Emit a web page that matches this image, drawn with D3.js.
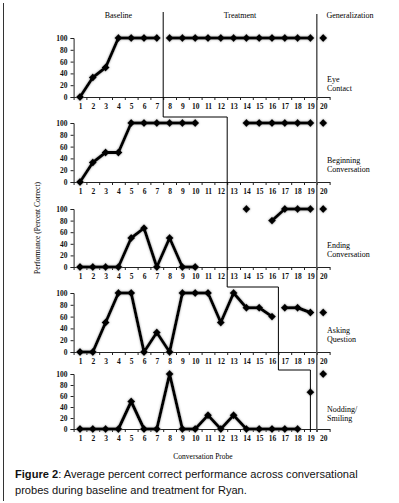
<!DOCTYPE html>
<html>
<head>
<meta charset="utf-8">
<script src="https://cdn.jsdelivr.net/npm/d3@7"></script>
<style>
  body { margin: 0; background: #fff; }
  svg { display: block; }
</style>
</head>
<body>
<div id="chart-container"></div>
<script>
const probes = d3.range(1, 21)
const yTicks = [0, 20, 40, 60, 80, 100]
const phaseTitles = ['Baseline', 'Treatment', 'Generalization']
const behaviours = [['Eye', 'Contact'], ['Beginning', 'Conversation'], ['Ending', 'Conversation'], ['Asking', 'Question'], ['Nodding/', 'Smiling']]

// percent correct per probe 1..20, null = not probed
const eyeContact = [0, 33, 50, 100, 100, 100, 100, 100, 100, 100, 100, 100, 100, 100, 100, 100, 100, 100, 100, 100]
const beginningConversation = [0, 33, 50, 50, 100, 100, 100, 100, 100, 100, null, null, null, 100, 100, 100, 100, 100, 100, 100]
const endingConversation = [0, 0, 0, 0, 50, 67, 0, 50, 0, 0, null, null, null, 100, null, 80, 100, 100, 100, 100]
const askingQuestion = [0, 0, 50, 100, 100, 0, 33, 0, 100, 100, 100, 50, 100, 75, 75, 60, 75, 75, 67, 67]
const noddingSmiling = [0, 0, 0, 0, 50, 0, 0, 100, 0, 0, 25, 0, 25, 0, 0, 0, 0, 0, 67, 100]
const series = [eyeContact, beginningConversation, endingConversation, askingQuestion, noddingSmiling]

// where the phase change line sits for each behaviour (probe units)
const treatmentStart = [7.5, 12.5, 12.5, 16.5, 19]
const generalizationStart = 19.5

const chartWidth = 399
const chartHeight = 503
const panels = [
  { top: 38, bottom: 97 },
  { top: 123, bottom: 182 },
  { top: 209, bottom: 267 },
  { top: 293, bottom: 352 },
  { top: 374, bottom: 429 }
]

const xScale = d3.scaleLinear().domain([0.5, 20.5]).range([73.6, 329.6])

const svg = d3
  .select('#chart-container')
  .append('svg')
  .attr('width', chartWidth)
  .attr('height', chartHeight)

const glow = svg.append('defs').append('filter').attr('id', 'glow')
  .attr('x', '-20%').attr('y', '-20%').attr('width', '140%').attr('height', '140%')
glow.append('feGaussianBlur').attr('in', 'SourceAlpha').attr('stdDeviation', 1.3).attr('result', 'blur')
glow.append('feFlood').attr('flood-color', '#888').attr('flood-opacity', 0.8)
glow.append('feComposite').attr('in2', 'blur').attr('operator', 'in').attr('result', 'shadow')
const merge = glow.append('feMerge')
merge.append('feMergeNode').attr('in', 'shadow')
merge.append('feMergeNode').attr('in', 'SourceGraphic')

// frame edge on the left
svg.append('line')
  .attr('x1', 3.5).attr('x2', 3.5).attr('y1', 3).attr('y2', 501)
  .attr('stroke', '#333').attr('stroke-width', 1)

const serif = '"Liberation Serif", "DejaVu Serif", serif'

// phase titles
const titleX = [(xScale(0.5) + xScale(treatmentStart[0])) / 2, (xScale(treatmentStart[0]) + xScale(generalizationStart)) / 2, 350]
svg.selectAll('.phase-title')
  .data(phaseTitles)
  .enter()
  .append('text')
  .attr('x', (d, i) => titleX[i])
  .attr('y', 18)
  .attr('text-anchor', 'middle')
  .attr('font-family', serif)
  .attr('font-size', 8)
  .text(d => d)

const drawPanel = (values, index) => {
  const { top, bottom } = panels[index]
  const yScale = d3.scaleLinear().domain([0, 100]).range([bottom, top])
  const g = svg.append('g').attr('class', 'panel')

  g.append('g')
    .attr('transform', `translate(${xScale(0.5)},0)`)
    .call(d3.axisLeft(yScale).tickValues(yTicks).tickSize(3).tickPadding(3))
    .call(a => a.select('.domain').attr('stroke', '#222'))
    .call(a => a.selectAll('line').attr('stroke', '#222'))
    .call(a => a.selectAll('text').attr('font-family', serif).attr('font-weight', 'bold').attr('font-size', 7.5).attr('fill', '#111'))

  g.append('g')
    .attr('transform', `translate(0,${bottom})`)
    .call(d3.axisBottom(xScale).tickValues(d3.range(0.5, 21, 1)).tickFormat('').tickSizeInner(3).tickSizeOuter(0))
    .call(a => a.select('.domain').attr('stroke', '#222'))
    .call(a => a.selectAll('line').attr('stroke', '#222'))

  g.append('g')
    .attr('transform', `translate(0,${bottom})`)
    .call(d3.axisBottom(xScale).tickValues(probes).tickSize(0).tickPadding(7))
    .call(a => a.select('.domain').remove())
    .call(a => a.selectAll('text').attr('font-family', serif).attr('font-weight', 'bold').attr('font-size', 7.5).attr('fill', '#111'))

  const points = probes.map((p, i) => ({ probe: p, value: values[i] }))
  const breaks = [Math.ceil(treatmentStart[index]), Math.ceil(generalizationStart)]
  const phaseOf = p => breaks.filter(b => p >= b).length
  const segments = d3.groups(points, d => phaseOf(d.probe)).map(([, pts]) => pts)

  const line = d3.line()
    .defined(d => d.value !== null)
    .x(d => xScale(d.probe))
    .y(d => yScale(d.value))

  const marks = g.append('g').attr('filter', 'url(#glow)')

  marks.selectAll('path.series')
    .data(segments)
    .enter()
    .append('path')
    .attr('class', 'series')
    .attr('d', line)
    .attr('fill', 'none')
    .attr('stroke', '#000')
    .attr('stroke-width', 3)
    .attr('stroke-linejoin', 'round')

  marks.selectAll('path.marker')
    .data(points.filter(d => d.value !== null))
    .enter()
    .append('path')
    .attr('class', 'marker')
    .attr('transform', d => `translate(${xScale(d.probe)},${yScale(d.value)})`)
    .attr('d', d3.symbol(d3.symbolDiamond2 || d3.symbolDiamond, 40))
    .attr('fill', '#000')

  g.selectAll('.behaviour')
    .data(behaviours[index])
    .enter()
    .append('text')
    .attr('x', 327)
    .attr('y', (d, i) => (top + bottom) / 2 + (index === 0 ? 14 : 10) + i * 9)
    .attr('font-family', serif)
    .attr('font-size', 8)
    .text(d => d)
}

series.forEach(drawPanel)

// staircase phase change line
const stepY = i => (panels[i].bottom + 14 + panels[i + 1].top) / 2
const stairs = [[xScale(treatmentStart[0]), 12]]
treatmentStart.forEach((b, i) => {
  if (i === treatmentStart.length - 1) {
    stairs.push([xScale(b), panels[i].bottom + 3])
    return
  }
  if (treatmentStart[i + 1] !== b) {
    stairs.push([xScale(b), stepY(i)])
    stairs.push([xScale(treatmentStart[i + 1]), stepY(i)])
  }
})
svg.append('path')
  .attr('d', d3.line()(stairs))
  .attr('fill', 'none')
  .attr('stroke', '#000')
  .attr('stroke-width', 1)

svg.append('line')
  .attr('x1', xScale(generalizationStart)).attr('x2', xScale(generalizationStart))
  .attr('y1', 14).attr('y2', panels[4].bottom + 3)
  .attr('stroke', '#555')
  .attr('stroke-width', 1.5)

// axis titles
svg.append('text')
  .attr('transform', `translate(40,228) rotate(-90)`)
  .attr('text-anchor', 'middle')
  .attr('font-family', serif)
  .attr('font-size', 7.5)
  .text('Performance (Percent Correct)')

svg.append('text')
  .attr('x', 203)
  .attr('y', 459)
  .attr('text-anchor', 'middle')
  .attr('font-family', serif)
  .attr('font-size', 7.5)
  .text('Conversation Probe')

const caption = svg.append('g')
  .attr('font-family', '"Liberation Sans", Arial, sans-serif')
  .attr('font-size', 11.1)
  .attr('fill', '#111')
const line1 = caption.append('text').attr('x', 15).attr('y', 478)
line1.append('tspan').attr('font-weight', 'bold').text('Figure 2')
line1.append('tspan').text(': Average percent correct performance across conversational')
caption.append('text').attr('x', 15).attr('y', 494)
  .text('probes during baseline and treatment for Ryan.')
</script>
</body>
</html>
